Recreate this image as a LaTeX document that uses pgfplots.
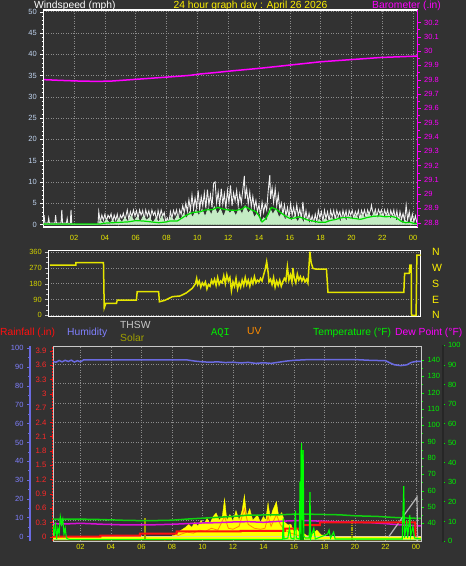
\documentclass[border=0pt]{standalone}
\usepackage{fontspec}
\setmainfont{Liberation Sans}
\newfontfamily\monofont{Liberation Mono}
\usepackage{pgfplots}
\pgfplotsset{compat=1.18}
\definecolor{bg}{HTML}{323232}
\definecolor{gridc}{HTML}{8C8C8C}
\definecolor{framec}{HTML}{C8C8C8}
\definecolor{tickblue}{HTML}{C0D4F0}
\definecolor{xlab}{HTML}{E6E600}
\definecolor{baro}{HTML}{FF00FF}
\definecolor{gust}{HTML}{F0F0F0}
\definecolor{windlg}{HTML}{C4ECC4}
\definecolor{windavg}{HTML}{00E000}
\definecolor{dirc}{HTML}{E6E600}
\definecolor{dirlab}{HTML}{D0D000}
\definecolor{hum}{HTML}{6A6AE0}
\definecolor{humlab}{HTML}{8080FF}
\definecolor{rainc}{HTML}{FF1010}
\definecolor{rainlab}{HTML}{FF2828}
\definecolor{tempc}{HTML}{10D010}
\definecolor{templab}{HTML}{00F000}
\definecolor{dew}{HTML}{D810D8}
\definecolor{solar}{HTML}{FFFF00}
\definecolor{uvc}{HTML}{FF8C00}
\definecolor{aqi}{HTML}{00FF00}
\definecolor{aqidark}{HTML}{00A000}
\definecolor{thsw}{HTML}{B4B4B4}
\definecolor{olivec}{HTML}{A0A000}
\definecolor{tanc}{HTML}{E6D296}
\definecolor{lgreen}{HTML}{96F050}
\pgfplotsset{
  base/.style={scale only axis, anchor=south west,
    tick label style={font=\fontsize{7.5}{8}\selectfont},
    /pgf/number format/assume math mode=true,
    major tick length=3pt, minor tick length=1.8pt},
  gridsty/.style={gridc, line width=0.5pt, dash pattern=on 1pt off 1.5pt},
}
\begin{document}
\begin{tikzpicture}[x=1pt,y=1pt]
\path[use as bounding box] (0,0) rectangle (466,566);
\fill[bg] (0,0) rectangle (466,566);

% ---------------- titles
\node[anchor=west, inner sep=0, text=white, font=\fontsize{10.3}{11}\selectfont] at (34,560.5) {Windspeed (mph)};
\node[anchor=center, inner sep=0, text=yellow, font=\fontsize{10.3}{11}\selectfont] at (250.5,560.5) {24 hour graph day : April 26 2026};
\node[anchor=west, inner sep=0, text=baro, font=\fontsize{10.3}{11}\selectfont] at (372,560.5) {Barometer (.in)};

% ---------------- Panel 1 : wind speed
\begin{axis}[base, at={(43.3pt,339pt)}, width=374.4pt, height=217pt,
  xmin=0, xmax=24.3, ymin=-0.6, ymax=50.4,
  axis line style={framec, line width=0.8pt},
  y axis line style={white, line width=1.2pt},
  xtick={2,4,...,24}, xticklabels={02,04,06,08,10,12,14,16,18,20,22,00},
  ytick={0,5,...,50}, minor y tick num=4,
  ytick pos=left, tick align=outside,
  x tick style={draw=none}, y tick style={white},
  grid=major, major grid style={gridsty},
  xticklabel style={text=xlab, yshift=-1.5pt}, yticklabel style={text=tickblue},
]
\addplot[gust, line width=0.9pt] coordinates {
(0.0,0) (0.05,2.2) (0.1,0.3) (0.3,0.3) (0.35,1.5) (0.4,0.3) (0.75,0.3) (0.8,2.2) (0.85,0.3) (1.15,0.3) (1.2,3.4) (1.25,0.3) (1.5,0.3) (1.55,1.4) (1.6,0.2) (1.75,0.2) (1.8,3.4) (1.85,0) (3.55,0)
(3.6,3.0) (3.7,0.5) (3.8,2.2) (3.9,1.0) (4.0,2.4) (4.1,0.8) (4.2,2.2) (4.3,1.5) (4.4,2.5) (4.5,0.6) (4.6,2.2) (4.7,1.0) (4.8,2.4) (4.9,0.3) (5.0,2.2) (5.1,1.5) (5.2,2.6) (5.3,1.0) (5.45,3.4) (5.55,1.2) (5.65,3.0) (5.75,1.8) (5.85,3.4) (5.95,2.0) (6.05,3.2) (6.15,1.4) (6.25,3.4) (6.35,2.2) (6.45,3.3) (6.55,1.0) (6.65,3.4) (6.75,2.0) (6.85,3.2) (6.95,1.5) (7.05,3.4) (7.15,2.2) (7.25,3.0) (7.35,0.8) (7.45,3.3) (7.55,1.6) (7.65,3.4) (7.75,2.0) (7.85,2.8) (7.95,0.6) (8.05,1.5) (8.15,0.3) (8.25,3.0) (8.35,1.5) (8.45,3.3) (8.55,2.2) (8.65,3.4) (8.75,1.2) (8.85,3.4) (8.95,2.4)
(9.05,4.4) (9.15,2.8) (9.25,5.0) (9.35,3.0) (9.45,5.8) (9.55,3.4) (9.65,6.9) (9.75,3.6) (9.85,6.2) (9.95,4.0) (10.05,8.0) (10.15,3.5) (10.25,6.5) (10.35,4.4) (10.45,7.4) (10.55,3.8) (10.65,8.2) (10.75,4.6) (10.85,7.0) (10.95,4.0) (11.05,9.6) (11.15,10.0) (11.25,5.0) (11.35,7.6) (11.45,4.2) (11.55,8.4) (11.65,4.8) (11.75,7.2) (11.85,3.8) (11.95,8.0) (12.05,5.2) (12.15,9.2) (12.25,4.4) (12.35,7.4) (12.45,5.6) (12.55,8.0) (12.65,4.4) (12.75,7.2) (12.85,5.0) (12.95,8.2) (13.05,11.4) (13.1,6.0) (13.2,8.4) (13.3,4.8) (13.4,7.6) (13.5,4.2) (13.6,6.6) (13.7,3.8) (13.8,5.6) (13.9,3.0) (14.0,4.6) (14.1,2.2) (14.2,5.2) (14.3,2.8) (14.4,4.8) (14.5,3.4) (14.6,8.0) (14.7,11.6) (14.75,6.0) (14.85,8.6) (14.95,5.2) (15.05,8.4) (15.15,4.4) (15.25,7.0) (15.35,3.6) (15.45,5.0) (15.55,2.4) (15.65,4.6) (15.75,2.0) (15.85,4.0) (15.95,1.6) (16.05,4.8) (16.15,2.2) (16.25,4.0) (16.35,1.8) (16.45,4.6) (16.55,2.0) (16.65,3.6) (16.75,1.4) (16.85,5.3) (16.95,1.0)
(17.05,3.2) (17.15,0.8) (17.25,2.6) (17.35,0.6) (17.45,2.0) (17.55,0.4) (17.65,2.4) (17.75,0.6) (17.85,3.3) (17.95,1.6) (18.05,3.0) (18.15,0.8) (18.25,3.3) (18.35,1.4) (18.45,3.0) (18.55,0.8) (18.65,3.3) (18.75,1.8) (18.85,3.3) (18.95,1.2) (19.05,3.3) (19.15,2.0) (19.25,3.0) (19.35,1.0) (19.45,3.3) (19.55,1.6) (19.65,3.2) (19.75,0.8) (19.85,3.3) (19.95,2.2) (20.05,3.3) (20.15,1.4) (20.25,3.0) (20.35,2.0) (20.45,3.3) (20.55,1.0) (20.65,3.3) (20.75,2.2) (20.85,3.4) (20.95,1.6) (21.05,3.4) (21.15,2.4) (21.25,3.5) (21.3,4.5) (21.35,3.5) (21.45,2.2) (21.55,3.5) (21.65,1.8) (21.75,3.5) (21.85,2.6) (21.95,3.4) (22.05,1.6) (22.15,3.4) (22.25,2.2) (22.35,3.4) (22.45,1.4) (22.55,3.3) (22.65,2.0) (22.75,3.4) (22.85,1.2) (22.95,3.2) (23.05,0.6) (23.15,3.0) (23.25,1.2) (23.35,2.6) (23.45,0.8) (23.55,4.5) (23.65,1.0) (23.75,3.0) (23.85,0.4) (23.95,2.4) (24.05,0.6) (24.15,2.0) (24.25,0.3)
};
\addplot[draw=windlg, fill=windlg, line width=0.6pt] coordinates {
(0,0) (3.6,0) (3.7,1.0) (3.9,0.2) (4.1,1.2) (4.3,0.3) (4.5,1.0) (4.7,0.2) (4.9,1.4) (5.1,0.5) (5.3,1.6) (5.5,0.6) (5.7,2.0) (5.9,0.8) (6.1,1.8) (6.3,0.6) (6.5,2.0) (6.7,1.0) (6.9,1.6) (7.1,0.4) (7.3,1.4) (7.5,0.6) (7.7,2.0) (7.9,0.3) (8.1,0.6) (8.3,1.8) (8.5,0.8) (8.7,2.2) (8.9,1.0) (9.1,2.6) (9.3,1.4) (9.5,3.0) (9.7,1.6) (9.9,3.4) (10.1,2.0) (10.3,3.6) (10.5,1.8) (10.7,3.8) (10.9,2.2) (11.1,4.2) (11.3,2.4) (11.5,3.6) (11.7,1.8) (11.9,3.8) (12.1,2.6) (12.3,3.4) (12.5,2.0) (12.7,3.8) (12.9,2.4) (13.1,4.4) (13.3,2.6) (13.5,3.6) (13.7,1.6) (13.9,2.8) (14.1,0.4) (14.3,1.6) (14.5,0.8) (14.7,3.8) (14.9,2.4) (15.1,3.6) (15.3,1.6) (15.5,2.8) (15.7,1.0) (15.9,2.2) (16.1,0.8) (16.3,2.0) (16.5,0.6) (16.7,1.8) (16.9,0.4) (17.1,1.4) (17.3,0.2) (17.5,0.8) (17.7,0.2) (17.9,1.2) (18.1,0.4) (18.3,1.4) (18.5,0.6) (18.7,1.6) (18.9,0.8) (19.1,1.8) (19.3,0.6) (19.5,1.8) (19.7,0.8) (19.9,2.0) (20.1,1.0) (20.3,2.2) (20.5,0.8) (20.7,2.4) (20.9,1.4) (21.1,2.6) (21.3,1.8) (21.5,2.8) (21.7,1.4) (21.9,2.6) (22.1,1.6) (22.3,2.4) (22.5,1.2) (22.7,2.2) (22.9,0.8) (23.1,1.6) (23.3,0.2) (23.5,1.0) (23.7,0.2) (23.9,0.8) (24.1,0.2) (24.3,0)
} \closedcycle;
\addplot[windavg, line width=1.2pt] coordinates {
(0,0.1) (3.7,0.1) (4.0,0.3) (5.5,0.6) (6.0,0.9) (6.5,0.8) (7.0,0.6) (7.5,0.4) (8.0,0.6) (8.2,0.8) (8.7,0.8) (9.0,1.5) (9.3,2.2) (9.7,2.8) (10.2,3.0) (10.5,3.4) (11.0,3.5) (11.3,4.0) (11.7,3.6) (12.0,3.4) (12.5,3.3) (12.9,3.6) (13.1,4.2) (13.4,3.6) (13.8,3.0) (14.0,2.0) (14.2,0.6) (14.4,1.2) (14.6,2.4) (14.8,4.0) (15.1,3.6) (15.4,2.8) (15.7,2.0) (16.0,1.4) (16.3,1.5) (16.6,1.8) (16.9,1.4) (17.2,1.0) (17.5,0.8) (17.9,0.5) (18.3,0.5) (18.6,0.9) (19.0,1.2) (19.4,1.6) (19.8,1.6) (20.2,1.4) (20.6,1.2) (21.0,1.6) (21.4,1.9) (21.8,2.0) (22.2,1.8) (22.6,1.9) (22.9,1.6) (23.2,0.8) (23.5,0.4) (23.8,0.5) (24.1,0.2) (24.3,0.2)
};
\end{axis}

% barometer overlay
\begin{axis}[base, at={(43.3pt,339pt)}, width=374.4pt, height=217pt,
  xmin=0, xmax=24.3, ymin=28.77, ymax=30.287,
  axis x line=none, axis y line*=right,
  y axis line style={baro, line width=1.2pt},
  ytick={28.8,28.9,29,29.1,29.2,29.3,29.4,29.5,29.6,29.7,29.8,29.9,30,30.1,30.2},
  minor y tick num=1, tick align=outside, y tick style={baro},
  yticklabel style={text=baro, /pgf/number format/fixed, /pgf/number format/precision=1},
]
\addplot[baro, line width=1.5pt] coordinates {
(0.05,29.80) (1.1,29.795) (2.4,29.79) (3.5,29.788) (4.4,29.79) (5.7,29.80) (7.0,29.81) (8.3,29.82) (9.5,29.83) (10.2,29.84) (11.2,29.85) (12.1,29.86) (13.1,29.87) (14.1,29.88) (15.4,29.895) (16.7,29.91) (18.0,29.925) (19.3,29.935) (20.6,29.945) (21.9,29.955) (23.1,29.96) (24.3,29.965)
};
\end{axis}

% ---------------- Panel 2 : wind direction
\begin{axis}[base, at={(48.3pt,249.2pt)}, width=372.4pt, height=66.3pt,
  xmin=0, xmax=24.3, ymin=-8.5, ymax=368.6,
  axis line style={framec, line width=0.8pt},
  y axis line style={white, line width=1.2pt},
  xtick={2,4,...,24}, xticklabels={}, x tick style={draw=none},
  ytick={0,90,180,270,360}, minor y tick num=2, ytick pos=left, tick align=outside,
  y tick style={framec},
  ymajorgrids, major grid style={gridsty},
  yticklabel style={text=dirlab},
]
\addplot[dirc, line width=1.5pt] coordinates {
(0.1,286) (1.8,286) (1.8,299) (3.6,299) (3.65,42) (3.75,68) (4.45,68) (4.5,87) (5.75,87) (5.8,134) (7.2,134) (7.25,77) (7.6,85) (8.1,106) (8.6,110) (9.0,127) (9.4,154) (9.6,180) (9.68,210) (9.75,175) (9.85,195) (9.95,160) (10.05,185) (10.15,170) (10.25,190) (10.35,150) (10.45,175) (10.55,165) (10.65,200) (10.75,180) (10.85,205) (10.95,170) (11.05,215) (11.15,175) (11.25,195) (11.35,185) (11.45,225) (11.55,180) (11.65,230) (11.75,195) (11.85,215) (11.95,140) (12.05,190) (12.15,165) (12.25,210) (12.35,150) (12.45,185) (12.55,160) (12.65,200) (12.75,170) (12.85,215) (12.95,175) (13.05,200) (13.15,165) (13.25,205) (13.35,180) (13.45,220) (13.55,185) (13.65,200) (13.75,190) (13.85,210) (13.95,195) (14.05,230) (14.15,260) (14.25,305) (14.35,240) (14.4,190) (14.5,205) (14.6,175) (14.7,215) (14.8,160) (14.9,195) (15.0,170) (15.1,200) (15.2,165) (15.3,190) (15.4,210) (15.5,195) (15.6,276) (15.7,200) (15.8,230) (15.9,190) (15.96,269) (16.05,210) (16.15,185) (16.25,235) (16.35,200) (16.45,220) (16.55,195) (16.65,215) (16.75,190) (16.85,205) (16.94,184) (17.07,362) (17.15,300) (17.27,267) (17.5,262) (18.15,262) (18.25,131) (23.2,131) (23.25,239) (23.55,239) (23.6,286) (23.68,286) (23.7,0) (24.0,0) (24.05,343) (24.3,343)
};
\end{axis}
\begin{axis}[base, at={(48.3pt,249.2pt)}, width=372.4pt, height=66.3pt,
  xmin=0, xmax=24.3, ymin=-8.5, ymax=368.6,
  axis x line=none, axis y line*=right, y axis line style={draw=none},
  ytick={0,90,180,270,360}, yticklabels={N,E,S,W,N}, y tick style={draw=none},
  yticklabel style={text=yellow, font=\fontsize{10.5}{11}\selectfont, xshift=8pt},
]
\addplot[draw=none] coordinates {(0,0)};
\end{axis}

% ---------------- legend row
\node[anchor=west, inner sep=0, text=rainc, font=\fontsize{10.3}{11}\selectfont] at (0,233) {Rainfall (.in)};
\node[anchor=west, inner sep=0, text=humlab, font=\fontsize{10.3}{11}\selectfont] at (67,233) {Humidity};
\node[anchor=west, inner sep=0, text=framec, font=\fontsize{10.3}{11}\selectfont] at (120,241) {THSW};
\node[anchor=west, inner sep=0, text=olivec, font=\fontsize{10.3}{11}\selectfont] at (120,228) {Solar};
\node[anchor=west, inner sep=0, text=templab, font=\monofont\fontsize{10.3}{11}\selectfont] at (211,233) {AQI};
\node[anchor=west, inner sep=0, text=uvc, font=\fontsize{10.3}{11}\selectfont] at (247,235) {UV};
\node[anchor=west, inner sep=0, text=templab, font=\fontsize{10.3}{11}\selectfont] at (313,233) {Temperature (°F)};
\node[anchor=west, inner sep=0, text=baro, font=\fontsize{10.3}{11}\selectfont] at (395,233) {Dew Point (°F)};

% ---------------- Panel 3 : main (far-right 0-100 scale for grid, solar, uv)
\begin{axis}[base, at={(53pt,25pt)}, width=368pt, height=195pt,
  xmin=0.2, xmax=24.33, ymin=-0.51, ymax=99.2,
  axis line style={framec, line width=0.8pt},
  xtick={2,4,...,24}, xticklabels={02,04,06,08,10,12,14,16,18,20,22,00},
  ytick={10,20,...,90}, yticklabels={}, y tick style={draw=none}, x tick style={draw=none},
  grid=major, major grid style={gridsty},
  xticklabel style={text=xlab},
]
\addplot[draw=solar, fill=solar, line width=0.4pt] coordinates {
(0.2,0) (7.0,0) (7.3,0.8) (7.8,1.5) (8.2,2.5) (8.6,5) (8.9,6.5) (9.1,8) (9.3,6.5) (9.5,9) (9.7,7) (9.9,10) (10.1,8) (10.3,11) (10.5,8.5) (10.7,12) (10.9,13.8) (11.1,10) (11.3,12) (11.45,21) (11.6,10) (11.8,13) (12.0,9.5) (12.2,15) (12.4,10) (12.6,15) (12.75,23) (12.9,12) (13.1,16) (13.3,10) (13.6,12.8) (13.8,9) (14.0,12) (14.15,10) (14.3,19) (14.45,11) (14.6,15) (14.85,19.6) (15.0,12) (15.2,14) (15.4,9) (15.6,7.7) (15.8,8) (16.0,4) (16.2,6) (16.4,2.5) (16.6,3.5) (16.9,2) (17.2,3) (17.5,5) (17.8,2.5) (18.0,2.5) (18.3,1) (18.7,0.5) (19.0,0) (24.33,0)
} \closedcycle;
\addplot[uvc, line width=0.8pt] coordinates {
(7.5,0) (8.2,1.5) (8.6,3) (9.0,4) (9.4,3.5) (9.8,5) (10.2,4.5) (10.6,6) (11.0,5) (11.45,12) (11.7,6) (12.0,5.5) (12.4,7) (12.75,16) (13.0,8) (13.4,6) (13.8,5.5) (14.1,6) (14.3,12) (14.5,7) (14.85,13) (15.1,8) (15.4,5) (15.8,3.5) (16.2,2.5) (16.6,1.5) (17.2,1) (18,0)
};
\addplot[tanc, line width=1.2pt] coordinates {(0.2,1.8) (24.33,1.8)};
\addplot[solar, line width=1.2pt] coordinates {(0.2,1.0) (24.33,1.0)};
\addplot[lgreen, line width=1.2pt] coordinates {(0.2,0.2) (24.33,0.2)};
\addplot[olivec, line width=1.2pt] coordinates {(6.23,0) (6.23,11)};
\addplot[olivec, line width=1.2pt, dash pattern=on 1.5pt off 0.8pt] coordinates {(19.8,0) (19.8,10)};
\node[anchor=north, inner sep=0, text=xlab, font=\fontsize{7.5}{8}\selectfont] at (axis cs:19.75,-0.51) [yshift=-6.8pt] {Sunset};
\end{axis}

% humidity overlay
\begin{axis}[base, at={(53pt,25pt)}, width=368pt, height=195pt,
  xmin=0.2, xmax=24.33, ymin=-2.28, ymax=101.2, hide axis]
\addplot[hum, line width=1.5pt] coordinates {
(0.2,93.0) (0.4,92.6) (0.6,93.5) (0.8,92.8) (1.0,93.6) (1.2,93.0) (1.4,93.7) (1.6,92.7) (1.8,93.4) (2.0,92.8) (2.2,93.8) (9.0,93.8) (9.5,93.2) (10.0,92.8) (10.5,92.6) (11,92.8) (11.5,92.4) (12,92.6) (12.5,92.2) (13,92.5) (13.5,92.0) (14,92.3) (14.5,92.0) (15,92.6) (15.5,93.2) (16,93.6) (16.5,93.8) (17,94.0) (20,94.0) (21,93.6) (22,93.4) (22.3,92.2) (22.6,91.2) (23.0,90.8) (23.4,91.2) (23.7,92.5) (24.0,93.0) (24.33,93.0)
};
\end{axis}

% temperature overlay (right axis)
\begin{axis}[base, at={(53pt,25pt)}, width=368pt, height=195pt,
  xmin=0.2, xmax=24.33, ymin=29.16, ymax=148.6,
  axis x line=none, axis y line*=right, y axis line style={framec, line width=0.8pt},
  ytick={40,50,...,140}, minor y tick num=1, tick align=outside, y tick style={templab},
  yticklabel style={text=templab},
]
\addplot[tempc, line width=1.5pt] coordinates {
(0.2,42.6) (1.5,42.6) (3,42.4) (5,41.8) (6.5,41.6) (8,41.9) (9,42.6) (10.5,43.4) (12,44.2) (13,45.0) (15,45.2) (16,45.6) (17,45.6) (19,45.2) (20,44.6) (21.5,44.2) (22.5,43.6) (23.5,43.2) (24.33,43.0)
};
\addplot[dew, line width=1.5pt] coordinates {
(0.2,39.8) (1,39.6) (2,40.0) (3.5,39.4) (5,39.0) (6.5,39.0) (8,39.4) (9,39.8) (10,40.2) (11,40.4) (12,40.8) (13,41.0) (14,40.6) (15,41.2) (16,41.6) (17,41.6) (18,41.2) (19,40.8) (20,40.6) (21,40.4) (22,39.8) (23,39.0) (24.33,38.4)
};
\addplot[thsw, line width=1.2pt] coordinates {(22.2,31.6) (24.07,56.1) (24.1,29.2)};
\end{axis}

% rain overlay (left axis)
\begin{axis}[base, at={(53pt,25pt)}, width=368pt, height=195pt,
  xmin=0.2, xmax=24.33, ymin=-0.09, ymax=4.0,
  axis x line=none, axis y line*=left, y axis line style={rainc, line width=1pt, dash pattern=on 2pt off 1pt},
  ytick={0,0.3,0.6,0.9,1.2,1.5,1.8,2.1,2.4,2.7,3,3.3,3.6,3.9}, tick align=outside, y tick style={rainc},
  yticklabel style={text=rainlab, font=\fontsize{7.8}{8}\selectfont, /pgf/number format/fixed, /pgf/number format/precision=1},
]
\addplot[rainc, line width=2pt] coordinates {
(0.2,0) (3.3,0) (3.3,0.025) (5.9,0.025) (5.9,0.067) (8.3,0.067) (8.3,0.11) (12.5,0.11) (12.5,0.12) (15.4,0.12) (15.4,0.17) (16.4,0.17) (16.4,0.245) (17.7,0.245) (17.7,0.30) (23.95,0.30) (23.97,0)
};
\end{axis}

% AQI overlay
\begin{axis}[base, at={(53pt,25pt)}, width=368pt, height=195pt,
  xmin=0.2, xmax=24.33, ymin=-0.51, ymax=99.2, hide axis]
\addplot[aqidark, line width=4pt] coordinates {(16.5,0) (16.5,46)};
\addplot[aqi, line width=1.1pt] coordinates {
(0.2,7.7) (0.28,2) (0.36,9) (0.44,0.5) (0.52,6) (0.6,3) (0.68,11.8) (0.76,8) (0.84,10.5) (0.92,3) (1.0,6) (1.08,1) (1.2,0.5) (1.3,0.3) (15.25,0.3) (15.3,11) (15.35,0.5) (15.6,1) (15.7,6) (15.8,1) (16.0,0.5) (16.1,15) (16.15,1) (16.35,0.5) (16.4,30) (16.45,3) (16.5,49.5) (16.55,10) (16.6,46) (16.65,2) (16.75,1) (17.0,1) (17.05,24.5) (17.1,1) (17.3,6) (17.4,0.5) (18.2,3) (18.3,5) (18.4,1) (18.6,4) (18.7,0.5) (23.1,0.5) (23.2,27.5) (23.25,1) (23.4,10) (23.45,1) (23.6,12.8) (23.65,2) (23.8,7) (23.9,1) (24.33,0.5)
};
\end{axis}

% humidity axis at left
\begin{axis}[base, at={(30pt,25pt)}, width=1pt, height=195pt,
  xmin=0, xmax=1, ymin=-2.28, ymax=101.2,
  axis x line=none, axis y line=left, y axis line style={hum, line width=2pt, -},
  ytick={0,10,...,100}, minor y tick num=1, tick align=outside, y tick style={hum, line width=0.8pt},
  yticklabel style={text=humlab},
]
\addplot[draw=none] coordinates {(0,0)};
\end{axis}

% far-right 0-100 axis
\begin{axis}[base, at={(442pt,24pt)}, width=1pt, height=197pt,
  xmin=0, xmax=1, ymin=-0.51, ymax=100.2,
  axis x line=none, axis y line=right, y axis line style={black!85, line width=1.6pt, -},
  ytick={0,10,...,100}, minor y tick num=1, tick align=center, y tick style={templab, line width=0.8pt},
  yticklabel style={text=templab},
]
\addplot[draw=none] coordinates {(0,0)};
\end{axis}
\end{tikzpicture}
\end{document}
